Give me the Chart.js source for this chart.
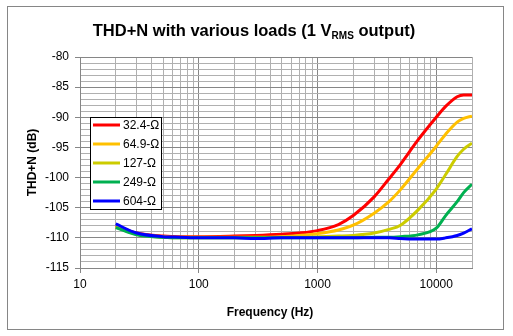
<!DOCTYPE html>
<html>
<head>
<meta charset="utf-8">
<script src="https://cdn.jsdelivr.net/npm/chart.js@4/dist/chart.umd.min.js"></script>
<style>
html,body{margin:0;padding:0;background:#fff;}
canvas{display:block;}
</style>
</head>
<body>
<canvas id="c" width="513" height="336"></canvas>
<script>
const freqs = [20, 30, 50, 70, 100, 200, 300, 500, 700, 1000, 1500, 2000, 3000, 4000, 5000, 7000, 10000, 12000, 15000, 17000, 20000];
const seriesLabels = ['32.4-Ω', '64.9-Ω', '127-Ω', '249-Ω', '604-Ω'];
const load32 = [-108.0, -109.2, -109.7, -109.8, -109.8, -109.7, -109.6, -109.4, -109.2, -108.8, -107.8, -106.3, -103.2, -100.2, -97.8, -93.8, -90.0, -88.2, -86.6, -86.3, -86.3];
const load65 = [-108.1, -109.3, -109.8, -109.9, -109.9, -109.9, -109.9, -109.8, -109.6, -109.3, -108.7, -107.9, -105.9, -104.0, -102.0, -98.5, -94.8, -92.8, -90.8, -90.2, -89.8];
const load127 = [-108.2, -109.4, -109.9, -110.0, -110.0, -110.0, -110.0, -109.9, -109.9, -109.8, -109.7, -109.6, -109.2, -108.6, -107.9, -105.4, -101.9, -99.5, -96.5, -95.3, -94.3];
const load249 = [-108.3, -109.5, -109.9, -110.0, -110.0, -110.0, -110.0, -110.0, -110.0, -110.0, -110.0, -110.0, -109.9, -109.9, -109.8, -109.5, -108.4, -106.3, -104.0, -102.5, -101.1];
const load604 = [-107.7, -109.2, -109.8, -109.9, -110.0, -110.0, -110.1, -110.0, -110.0, -110.0, -110.0, -110.0, -110.0, -110.0, -110.1, -110.2, -110.2, -110.0, -109.6, -109.2, -108.5];
const xTickValues = [10,20,30,40,50,60,70,80,90,100,200,300,400,500,600,700,800,900,1000,2000,3000,4000,5000,6000,7000,8000,9000,10000,20000];
const xMajor = [10, 100, 1000, 10000];
const yMin = -115, yMax = -80;
const colors = ['#ff0000', '#ffc000', '#cccc00', '#00b050', '#0000ff'];
const allSeries = [load32, load65, load127, load249, load604];

const FONT = '"Liberation Sans", Arial, sans-serif';

const datasets = allSeries.map((s, i) => ({
  label: seriesLabels[i],
  data: freqs.map((f, j) => ({x: f, y: s[j]})),
  borderColor: colors[i],
  backgroundColor: colors[i],
  borderWidth: 3,
  pointRadius: 0,
  cubicInterpolationMode: 'monotone',
  fill: false,
  order: allSeries.length - i
}));

const decor = {
  id: 'decor',
  beforeDraw(chart) {
    const ctx = chart.ctx;
    ctx.save();
    ctx.fillStyle = '#fff';
    ctx.fillRect(0, 0, chart.width, chart.height);
    ctx.strokeStyle = '#868686';
    ctx.lineWidth = 1;
    ctx.strokeRect(7.5, 6.5, 496, 323);
    ctx.restore();
  },
  afterDraw(chart) {
    const ctx = chart.ctx;
    const ca = chart.chartArea;
    ctx.save();
    const main1 = 'THD+N with various loads (1 V';
    const sub = 'RMS';
    const main2 = ' output)';
    const f1 = 'bold 16.5px ' + FONT;
    const f2 = 'bold 10px ' + FONT;
    ctx.font = f1;
    const w1 = ctx.measureText(main1).width;
    const w3 = ctx.measureText(main2).width;
    ctx.font = f2;
    const w2 = ctx.measureText(sub).width;
    const total = w1 + w2 + w3;
    let x = 254 - total / 2;
    const by = 36;
    ctx.fillStyle = '#000';
    ctx.textBaseline = 'alphabetic';
    ctx.textAlign = 'left';
    ctx.font = f1; ctx.fillText(main1, x, by); x += w1;
    ctx.font = f2; ctx.fillText(sub, x, by + 3); x += w2;
    ctx.font = f1; ctx.fillText(main2, x, by);
    ctx.font = 'bold 12px ' + FONT;
    ctx.textAlign = 'center';
    ctx.textBaseline = 'middle';
    ctx.fillText('Frequency (Hz)', 270, 313);
    ctx.save();
    ctx.translate(33, (ca.top + ca.bottom) / 2);
    ctx.rotate(-Math.PI / 2);
    ctx.fillText('THD+N (dB)', 0, 0);
    ctx.restore();
    const lx = 90.5, ly = 117.5, lw = 71, lh = 92;
    ctx.fillStyle = '#fff';
    ctx.fillRect(lx, ly, lw, lh);
    ctx.strokeStyle = '#000';
    ctx.lineWidth = 1;
    ctx.strokeRect(lx, ly, lw, lh);
    ctx.font = '12px ' + FONT;
    ctx.textAlign = 'left';
    ctx.textBaseline = 'middle';
    chart.data.datasets.forEach((ds, i) => {
      const yy = 125 + i * 19;
      ctx.strokeStyle = ds.borderColor;
      ctx.lineWidth = 3;
      ctx.beginPath();
      ctx.moveTo(93, yy);
      ctx.lineTo(120, yy);
      ctx.stroke();
      ctx.fillStyle = '#000';
      ctx.fillText(ds.label, 123, yy + 0.5);
    });
    ctx.restore();
  }
};

new Chart(document.getElementById('c'), {
  type: 'line',
  data: { datasets },
  options: {
    responsive: false,
    animation: false,
    layout: { padding: { left: 0, right: 41, top: 57, bottom: 0 } },
    plugins: { legend: { display: false }, title: { display: false }, tooltip: { enabled: false } },
    scales: {
      x: {
        type: 'logarithmic',
        min: 10, max: 20000,
        afterBuildTicks(scale) {
          scale.ticks = xTickValues.map(v => ({ value: v }));
        },
        afterFit(scale) { scale.height = 68; },
        ticks: {
          autoSkip: false,
          maxRotation: 0,
          padding: 4,
          color: '#000',
          font: { family: FONT, size: 12 },
          callback(v) { return xMajor.includes(v) ? String(v) : ''; }
        },
        grid: {
          color(ctx) { const v = ctx.tick && ctx.tick.value; return xMajor.includes(v) ? '#868686' : '#b0b0b0'; },
          tickColor(ctx) { const v = ctx.tick && ctx.tick.value; return xMajor.includes(v) ? '#868686' : 'rgba(0,0,0,0)'; },
          tickLength: 5,
          lineWidth: 1
        },
        border: { color: '#868686', width: 1 }
      },
      y: {
        type: 'linear',
        min: yMin, max: yMax,
        afterFit(scale) { scale.width = 80; },
        ticks: {
          stepSize: 1,
          autoSkip: false,
          padding: 6,
          color: '#000',
          font: { family: FONT, size: 12 },
          callback(v) { return v % 5 === 0 ? String(v) : ''; }
        },
        grid: {
          color(ctx) { const v = ctx.tick && ctx.tick.value; return (v % 5 === 0) ? '#868686' : '#b0b0b0'; },
          tickColor(ctx) { const v = ctx.tick && ctx.tick.value; return (v % 5 === 0) ? '#868686' : 'rgba(0,0,0,0)'; },
          tickLength: 5,
          lineWidth: 1
        },
        border: { color: '#868686', width: 1 }
      }
    }
  },
  plugins: [decor]
});
</script>
</body>
</html>
